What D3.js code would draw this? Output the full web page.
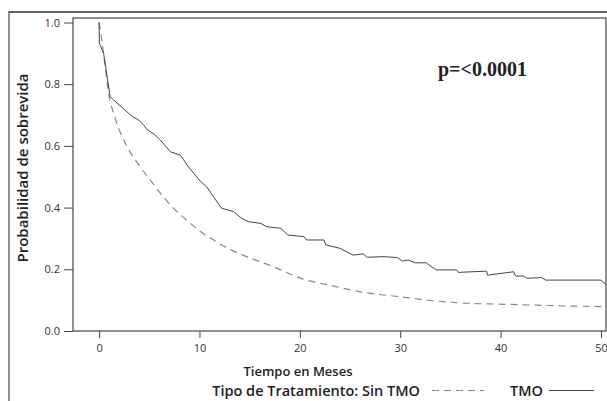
<!DOCTYPE html>
<html>
<head>
<meta charset="utf-8">
<script src="https://cdn.jsdelivr.net/npm/d3@7"></script>
<style>
  body { margin: 0; background: #fff; }
  .tick text { font-family: "Open Sans", sans-serif; font-size: 11px; fill: #333; }
  .tick line { stroke: #444; }
  .lbl { font-family: "Open Sans", sans-serif; font-weight: 600; fill: #222; }
</style>
</head>
<body>
<svg id="container" width="607" height="401"></svg>
<script>
// survival curves (time in months, survival prob)
const tmoTime = [0, 0.02, 0.2, 0.45, 0.6, 0.8, 1.1, 1.45, 2.2, 3.3, 3.95, 4.45, 4.8, 5.5, 6.1, 7.1, 8.1, 8.9, 10.1, 10.7, 11.4, 12.2, 13.4, 14.2, 14.9, 16.1, 16.7, 18.1, 18.8, 20.4, 20.7, 22.4, 22.6, 24.0, 25.3, 26.3, 26.7, 28.3, 29.7, 30.2, 30.8, 31.5, 32.6, 33.0, 33.6, 35.6, 35.8, 38.6, 38.7, 41.3, 41.5, 42.3, 42.6, 44.1, 44.5, 50.0, 50.3, 50.6];
const tmoSurv = [1.0, 0.933, 0.92, 0.90, 0.868, 0.824, 0.76, 0.749, 0.727, 0.695, 0.684, 0.667, 0.652, 0.638, 0.619, 0.581, 0.570, 0.532, 0.485, 0.468, 0.435, 0.398, 0.387, 0.365, 0.354, 0.349, 0.338, 0.333, 0.311, 0.306, 0.295, 0.295, 0.279, 0.268, 0.246, 0.25, 0.239, 0.241, 0.238, 0.227, 0.230, 0.221, 0.221, 0.211, 0.198, 0.198, 0.190, 0.194, 0.181, 0.192, 0.178, 0.178, 0.171, 0.173, 0.165, 0.165, 0.155, 0.155];

const sinTime = [0, 0.13, 0.6, 0.95, 1.45, 1.95, 2.8, 4.1, 5.2, 6.4, 7.5, 8.7, 10, 11.4, 13, 14.7, 17.4, 20, 23.3, 26.6, 30, 33.3, 36.6, 39.9, 43.2, 46.5, 49.9, 50.6];
const sinSurv = [1.0, 0.975, 0.857, 0.77, 0.705, 0.657, 0.597, 0.532, 0.485, 0.435, 0.395, 0.36, 0.325, 0.295, 0.265, 0.241, 0.208, 0.172, 0.146, 0.124, 0.111, 0.098, 0.090, 0.087, 0.084, 0.081, 0.079, 0.078];

const xTicks = [0, 10, 20, 30, 40, 50];
const yTicks = [0, 0.2, 0.4, 0.6, 0.8, 1.0];

const pText = "p=<0.0001";
const xTitle = "Tiempo en Meses";
const yTitle = "Probabilidad de sobrevida";
const legendTitle = "Tipo de Tratamiento: Sin TMO";
const legendTmo = "TMO";

const svg = d3.select("#container");

const plot = { left: 73, right: 606, top: 18, bottom: 331 };

const x = d3.scaleLinear().domain([-2.6, 50.5]).range([plot.left, plot.right]);
const y = d3.scaleLinear().domain([0, 1]).range([plot.bottom, 22.5]);

// outer figure frame (cropped)
svg.append("line")
  .attr("x1", 9).attr("x2", 607).attr("y1", 12).attr("y2", 12)
  .attr("stroke", "#666").attr("stroke-width", 2);
svg.append("line")
  .attr("x1", 9).attr("x2", 9).attr("y1", 11).attr("y2", 401)
  .attr("stroke", "#555").attr("stroke-width", 1.3);

// axes
svg.append("g")
  .attr("transform", `translate(0,${plot.bottom})`)
  .call(d3.axisBottom(x).tickValues(xTicks).tickSize(7).tickSizeOuter(0).tickPadding(6).tickFormat(d3.format("d")))
  .call(g => g.select(".domain").remove());

svg.append("g")
  .attr("transform", `translate(${plot.left},0)`)
  .call(d3.axisLeft(y).tickValues(yTicks).tickSize(9).tickSizeOuter(0).tickPadding(4).tickFormat(d3.format(".1f")))
  .call(g => g.select(".domain").remove());

svg.append("rect")
  .attr("x", plot.left).attr("y", plot.top)
  .attr("width", plot.right - plot.left).attr("height", plot.bottom - plot.top)
  .attr("fill", "none").attr("stroke", "#555").attr("stroke-width", 1.3);

svg.append("defs").append("clipPath").attr("id", "clip")
  .append("rect")
  .attr("x", plot.left).attr("y", plot.top)
  .attr("width", plot.right - plot.left).attr("height", plot.bottom - plot.top);

const line = d3.line()
  .x(d => x(d[0]))
  .y(d => y(d[1]));

const smooth = d3.line()
  .x(d => x(d[0]))
  .y(d => y(d[1]))
  .curve(d3.curveMonotoneX);

svg.append("path")
  .datum(sinTime.map((t, i) => [t, sinSurv[i]]))
  .attr("clip-path", "url(#clip)")
  .attr("fill", "none")
  .attr("stroke", "#888")
  .attr("stroke-width", 1.2)
  .attr("stroke-dasharray", "7,5")
  .attr("d", smooth);

svg.append("path")
  .datum(tmoTime.map((t, i) => [t, tmoSurv[i]]))
  .attr("clip-path", "url(#clip)")
  .attr("fill", "none")
  .attr("stroke", "#444")
  .attr("stroke-width", 1)
  .attr("d", line);

// p-value
svg.append("text")
  .attr("x", 438).attr("y", 76)
  .attr("font-family", "'Liberation Serif', 'Times New Roman', serif")
  .attr("font-weight", "bold")
  .attr("font-size", 20)
  .attr("fill", "#222")
  .text(pText);

// titles
svg.append("text")
  .attr("class", "lbl")
  .attr("x", 298).attr("y", 376)
  .attr("text-anchor", "middle")
  .attr("font-size", 13)
  .text(xTitle);

svg.append("text")
  .attr("class", "lbl")
  .attr("transform", "translate(28,168) rotate(-90)")
  .attr("text-anchor", "middle")
  .attr("font-size", 15)
  .text(yTitle);

// legend
svg.append("text")
  .attr("class", "lbl")
  .attr("x", 420).attr("y", 396)
  .attr("text-anchor", "end")
  .attr("font-size", 14.5)
  .text(legendTitle);

svg.append("line")
  .attr("x1", 432).attr("x2", 484).attr("y1", 390.5).attr("y2", 390.5)
  .attr("stroke", "#888").attr("stroke-width", 1.2).attr("stroke-dasharray", "7,5");

svg.append("text")
  .attr("class", "lbl")
  .attr("x", 543).attr("y", 396)
  .attr("text-anchor", "end")
  .attr("font-size", 14.5)
  .text(legendTmo);

svg.append("line")
  .attr("x1", 549).attr("x2", 594).attr("y1", 390.5).attr("y2", 390.5)
  .attr("stroke", "#444").attr("stroke-width", 1);
</script>
</body>
</html>
